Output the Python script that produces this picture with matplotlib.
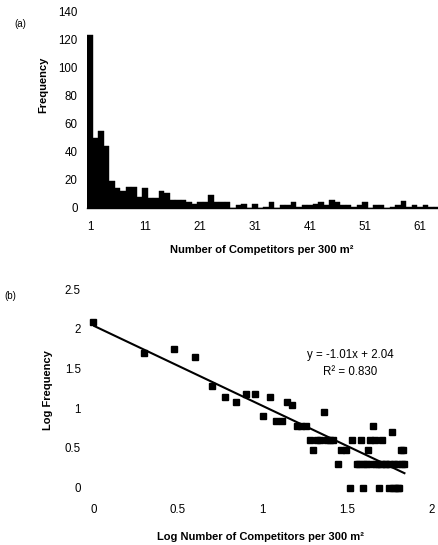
import numpy as np
import matplotlib
matplotlib.use("Agg")
import matplotlib.pyplot as plt

plt.rcParams['font.family'] = ['Liberation Sans', 'DejaVu Sans']

# Number of competitors per 300 m^2 and how many plots had that count
competitors = list(range(1, 70))
frequency = [123, 50, 55, 44, 19, 14, 12, 15, 15, 8,
             14, 7, 7, 12, 11, 6, 6, 6, 4, 3,
             4, 4, 9, 4, 4, 4, 0, 2, 3, 0,
             3, 0, 1, 4, 0, 2, 2, 4, 1, 2,
             2, 3, 4, 2, 6, 4, 2, 2, 1, 2,
             4, 0, 2, 2, 0, 1, 2, 5, 1, 2,
             1, 2, 1, 1, 0, 3, 2, 3, 2]

# Fitted power-law line (log-log)
fit_slope = -1.01
fit_intercept = 2.04
fit_r2 = 0.830

hist_yticks = [0, 20, 40, 60, 80, 100, 120, 140]
hist_xticks = [1, 11, 21, 31, 41, 51, 61]
log_xticks = [0, 0.5, 1, 1.5, 2]
log_yticks = [0, 0.5, 1, 1.5, 2, 2.5]

W, H = 439, 545
fig = plt.figure(figsize=(W / 100, H / 100), dpi=100)

def frac_box(left, top, right, bottom):
    return [left / W, 1 - bottom / H, (right - left) / W, (bottom - top) / H]

# ---- (a) histogram ----
ax1 = fig.add_axes(frac_box(87.25, 11, 439, 208))
ax1.bar(competitors, frequency, width=1.0, color='black', edgecolor='black', linewidth=0.3)
ax1.set_xlim(0.5, 0.5 + (439 - 87.25) / 5.5)
ax1.set_ylim(0, 140)
ax1.set_yticks(hist_yticks)
ax1.set_xticks(hist_xticks)
for s in ['top', 'right', 'left']:
    ax1.spines[s].set_visible(False)
ax1.spines['bottom'].set_linewidth(1.0)
ax1.tick_params(axis='y', length=0, pad=7, labelsize=8.3)
ax1.tick_params(axis='x', length=0, pad=9, labelsize=8.3)

fig.text(20 / W, 1 - 24 / H, '(a)', fontsize=7, ha='center', va='center')
fig.text(43 / W, 1 - 85 / H, 'Frequency', fontsize=8, fontweight='bold',
         rotation=90, ha='center', va='center')
fig.text(262 / W, 1 - 250 / H, 'Number of Competitors per 300 m²',
         fontsize=8, fontweight='bold', ha='center', va='center')

# ---- (b) log-log plot ----
ax2 = fig.add_axes(frac_box(93.3, 289, 431.7, 487.7))
n = np.array(competitors, dtype=float)
f = np.array(frequency, dtype=float)
mask = f > 0
log_n = np.log10(n[mask])
log_f = np.log10(f[mask])
ax2.plot(log_n, log_f, linestyle='none', marker='s', markersize=5,
         color='black', clip_on=False)
xx = np.array([0, log_n.max()])
ax2.plot(xx, fit_intercept + fit_slope * xx, color='black', linewidth=1.5)
ax2.set_xlim(0, 2)
ax2.set_ylim(0, 2.5)
ax2.set_xticks(log_xticks)
ax2.set_yticks(log_yticks)
ax2.set_xticklabels([f'{v:g}' for v in log_xticks])
ax2.set_yticklabels([f'{v:g}' for v in log_yticks])
for s in ax2.spines.values():
    s.set_visible(False)
ax2.tick_params(axis='y', length=0, pad=9, labelsize=8.3)
ax2.tick_params(axis='x', length=0, pad=12, labelsize=8.3)

ax2.text(1.52, 1.67, f'y = {fit_slope:.2f}x + {fit_intercept:.2f}', fontsize=8.3,
         ha='center', va='center')
ax2.text(1.52, 1.46, f'R² = {fit_r2:.3f}', fontsize=8.3, ha='center', va='center')

fig.text(10 / W, 1 - 296 / H, '(b)', fontsize=7, ha='center', va='center')
fig.text(48 / W, 1 - 390 / H, 'Log Frequency', fontsize=8, fontweight='bold',
         rotation=90, ha='center', va='center')
fig.text(261 / W, 1 - 537 / H, 'Log Number of Competitors per 300 m²',
         fontsize=8, fontweight='bold', ha='center', va='center')

fig.savefig('out.png', dpi=100)
